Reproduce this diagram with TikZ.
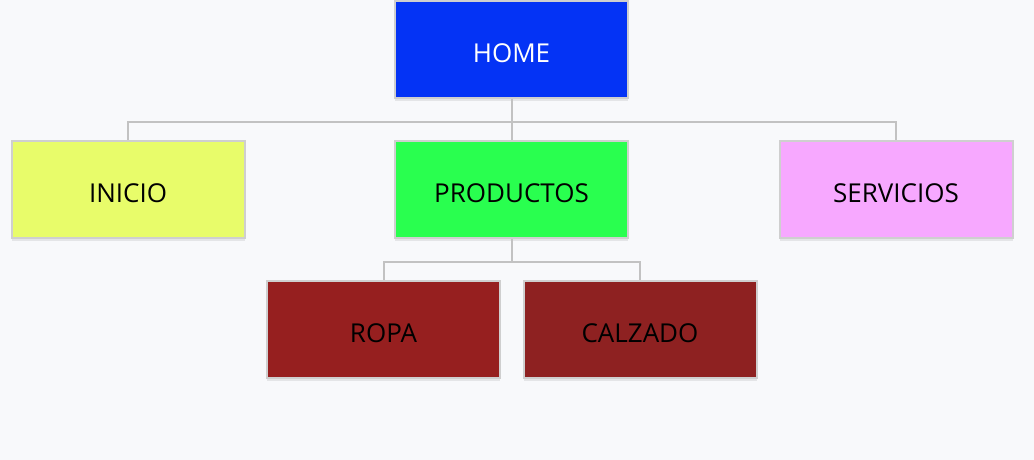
\documentclass[tikz,border=0pt]{standalone}
\usepackage{fontspec}
\setmainfont{Open Sans}
\usetikzlibrary{shadows}

\definecolor{bgcol}{HTML}{F8F9FB}
\definecolor{linecol}{HTML}{C2C2C2}
\definecolor{edgecol}{HTML}{CFCFCF}
\definecolor{homecol}{HTML}{0433F5}
\definecolor{iniciocol}{HTML}{E8FC6A}
\definecolor{prodcol}{HTML}{29FF4F}
\definecolor{servcol}{HTML}{F7A8FF}
\definecolor{ropacol}{HTML}{961F1F}
\definecolor{calzcol}{HTML}{8E2121}

\begin{document}
\begin{tikzpicture}[x=1pt, y=1pt,
    box/.style={draw=edgecol, line width=2pt, minimum width=233pt, minimum height=97pt,
        inner sep=0pt, text height=26pt, text depth=0pt, font=\fontsize{26}{30}\selectfont,
        drop shadow={shadow xshift=0pt, shadow yshift=-3pt, opacity=0.08, fill=black}},
    link/.style={draw=linecol, line width=2pt}]

    % Canvas
    \useasboundingbox[fill=bgcol] (0,0) rectangle (1034,-460);

    % Levels
    \def\ytop{-49.5}
    \def\ymid{-189.5}
    \def\ylow{-329.5}

    % Boxes
    \node[box, fill=homecol, text=white] (home) at (511.5,\ytop) {HOME};

    \node[box, fill=iniciocol] (inicio) at (128,\ymid) {INICIO};
    \node[box, fill=prodcol] (productos) at (511.5,\ymid) {PRODUCTOS};
    \node[box, fill=servcol] (servicios) at (896,\ymid) {SERVICIOS};

    \node[box, fill=ropacol] (ropa) at (383.5,\ylow) {ROPA};
    \node[box, fill=calzcol] (calzado) at (640,\ylow) {CALZADO};

    % Links
    \draw[link] (home.south) -- ++(0,-23) coordinate (hbus);
    \draw[link] (hbus) -| (inicio.north);
    \draw[link] (hbus) -| (servicios.north);
    \draw[link] (hbus) -- (productos.north);

    \draw[link] (productos.south) -- ++(0,-23) coordinate (pbus);
    \draw[link] (pbus) -| (ropa.north);
    \draw[link] (pbus) -| (calzado.north);

\end{tikzpicture}
\end{document}
